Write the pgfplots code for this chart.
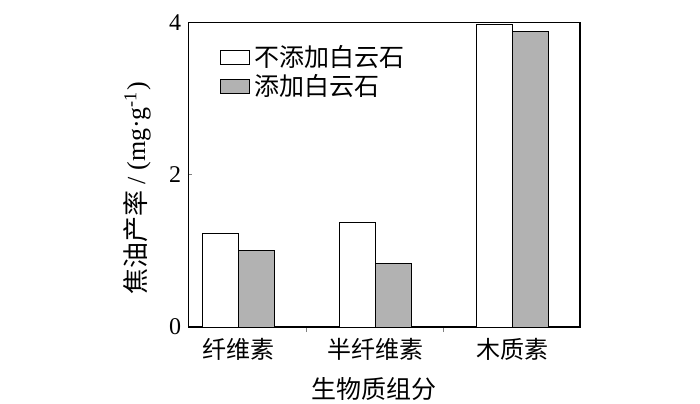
\documentclass[border=0pt]{standalone}
\usepackage{pgfplots}
\pgfplotsset{compat=1.18}
\usepackage{fontspec}
\setmainfont{Liberation Serif}
\newfontfamily\cjk{Noto Sans CJK SC}
\begin{document}
\begin{tikzpicture}
\useasboundingbox (0,0) rectangle (350pt,201.5pt);
\begin{axis}[
  at={(94.15pt,38pt)}, anchor=south west,
  scale only axis, width=195.85pt, height=152.15pt,
  xmin=-0.365, xmax=2.494, ymin=0, ymax=4,
  clip=false,
  axis line style={line width=0.6pt},
  xtick={0,1,2}, xticklabels={{\cjk 纤维素},{\cjk 半纤维素},{\cjk 木质素}},
  major x tick style={draw=none},
  minor xtick={0.5,1.5}, minor tick length=2.6pt,
  minor x tick style={line width=0.6pt},
  ytick={0,2,4}, major tick length=2pt,
  y tick style={line width=0.6pt},
  tick align=inside, xtick pos=bottom, ytick pos=left,
  tick label style={font=\fontsize{12}{14}\selectfont},
  /pgf/number format/assume math mode=true,
  ybar=0pt, bar width=18.15pt,
  legend style={at={(rel axis cs:0.079,0.94)}, anchor=north west, draw=none, fill=none,
    font=\fontsize{12.5}{14}\selectfont, inner sep=0pt, row sep=-1.5pt},
  legend cell align=left,
  legend image code/.code={\draw[#1, line width=0.5pt] (0pt,-3.7pt) rectangle (14.85pt,3.7pt);},
]
\addplot[draw=black, line width=0.5pt, fill=white] coordinates {(0,1.23) (1,1.37) (2,3.97)};
\addlegendentry{\cjk 不添加白云石}
\addplot[draw=black, line width=0.5pt, fill=black!30] coordinates {(0,1.01) (1,0.83) (2,3.88)};
\addlegendentry{\cjk 添加白云石}
\node[rotate=90, font=\fontsize{13}{15}\selectfont] at (rel axis cs:-0.131,0.455) {{\cjk 焦油产率} / (mg·g\textsuperscript{-1})};
\node[font=\fontsize{12.5}{14}\selectfont] at (rel axis cs:0.474,-0.205) {\cjk 生物质组分};
\end{axis}
\end{tikzpicture}
\end{document}
